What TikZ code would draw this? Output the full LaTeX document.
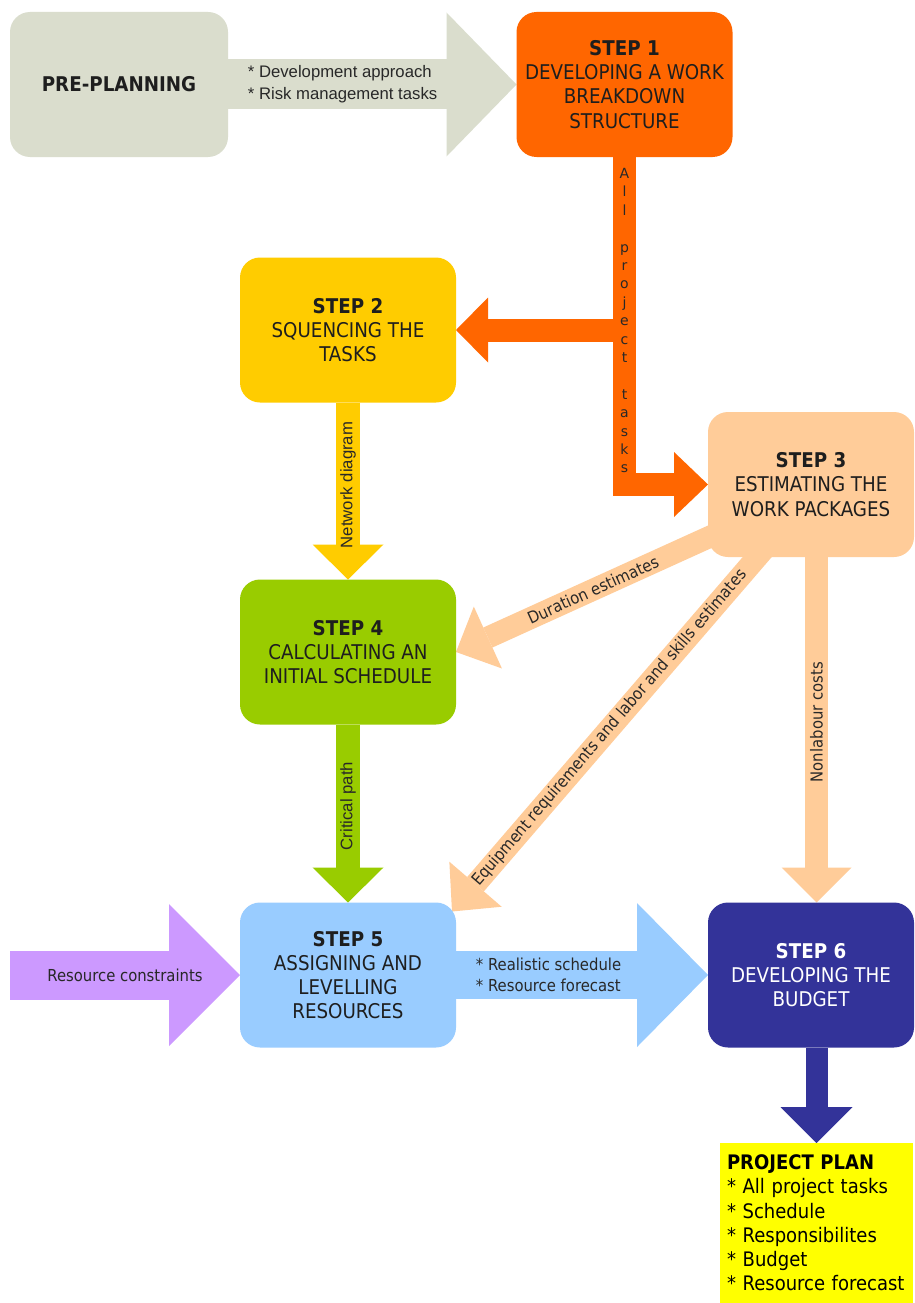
\documentclass[tikz,border=0pt]{standalone}
\usepackage{fontspec}
\setmainfont{DejaVu Sans Condensed}
\newfontfamily\arialfont{Liberation Sans}
\newfontfamily\widefont{DejaVu Sans}
\usetikzlibrary{arrows.meta}
\pgfdeclarelayer{background}
\pgfsetlayers{background,main}

% palette
\definecolor{preGray}{RGB}{218,221,205}
\definecolor{stepOrange}{RGB}{255,102,0}
\definecolor{stepYellow}{RGB}{255,204,0}
\definecolor{stepPeach}{RGB}{255,204,153}
\definecolor{stepGreen}{RGB}{153,204,0}
\definecolor{stepBlue}{RGB}{153,204,255}
\definecolor{stepNavy}{RGB}{51,51,153}
\definecolor{constraintViolet}{RGB}{204,153,255}
\definecolor{planYellow}{RGB}{255,255,0}
\definecolor{inkText}{RGB}{30,30,30}
\definecolor{labelText}{RGB}{40,40,40}

\tikzset{
  stepbox/.style={rounded corners=20pt, minimum width=216pt, minimum height=145pt,
    inner sep=0pt, outer sep=0pt, align=center, text=inkText,
    font=\fontsize{20.3}{24.2}\selectfont},
  headtip/.style 2 args={-{Triangle[length=#1, width=#2, line width=0pt]}},
  notesf/.style={text=labelText, inner sep=0pt, outer sep=0pt,
    font=\fontsize{16.5}{20.5}\selectfont},
  notearial/.style={text=labelText, inner sep=0pt, outer sep=0pt,
    font=\arialfont\fontsize{16.7}{22}\selectfont},
  letterstack/.style={text=labelText, inner sep=0pt, outer sep=0pt, align=center,
    font=\widefont\fontsize{14}{18.4}\selectfont},
  planbox/.style={fill=planYellow, minimum width=193pt, minimum height=160pt,
    text width=179pt, inner xsep=7pt, inner ysep=0pt, outer sep=0pt, align=left,
    text=black, font=\fontsize{20}{24.2}\selectfont}
}

\begin{document}
\begin{tikzpicture}[x=1pt,y=-1pt]
\useasboundingbox (0,0) rectangle (915,1303);

% ---- process boxes ----
\node[stepbox, fill=preGray, minimum width=218pt] (pre) at (119,84.5) {\textbf{PRE-PLANNING}};
\node[stepbox, fill=stepOrange] (s1) at (624.5,84.5)
  {\textbf{STEP 1}\\DEVELOPING A WORK\\BREAKDOWN\\STRUCTURE};
\node[stepbox, fill=stepYellow] (s2) at (348,330)
  {\textbf{STEP 2}\\SQUENCING THE\\TASKS};
\node[stepbox, fill=stepPeach, minimum width=206pt] (s3) at (811,484.5)
  {\textbf{STEP 3}\\ESTIMATING THE\\WORK PACKAGES};
\node[stepbox, fill=stepGreen] (s4) at (348,652)
  {\textbf{STEP 4}\\CALCULATING AN\\INITIAL SCHEDULE};
\node[stepbox, fill=stepBlue] (s5) at (348,975)
  {\textbf{STEP 5}\\ASSIGNING AND\\LEVELLING\\RESOURCES};
\node[stepbox, fill=stepNavy, minimum width=206pt, text=white] (s6) at (811,975)
  {\textbf{STEP 6}\\DEVELOPING THE\\BUDGET};
\node[planbox] (plan) at (816.5,1223)
  {\textbf{PROJECT PLAN}\\{*} All project tasks\\{*} Schedule\\{*} Responsibilites\\{*} Budget\\{*} Resource forecast};

\coordinate (rcstart) at (10,975);

% ---- block arrows, kept behind the boxes ----
\begin{pgfonlayer}{background}
\fill[white] (0,0) rectangle (915,1303);

\draw[preGray, line width=50pt, headtip={70pt}{144pt}] (pre.east) --
  node[notearial, anchor=west, align=left, pos=0.069] (prenote)
  {* Development approach\\{*} Risk management tasks} (s1.west);

\draw[stepOrange, line width=23pt, headtip={32pt}{65pt}] (s1.south |- s2.east) -- (s2.east);
\draw[stepOrange, line width=23pt, headtip={34pt}{65pt}] (s1.south) |-
  node[letterstack, pos=0.25] (alltasks)
  {A\\l\\l\\\mbox{}\\p\\r\\o\\j\\e\\c\\t\\\mbox{}\\t\\a\\s\\k\\s} (s3.west);

\draw[stepYellow, line width=24pt, headtip={35pt}{71pt}] (s2.south) --
  node[notearial, rotate=90, pos=0.466] (netnote) {Network diagram} (s4.north);

\draw[stepGreen, line width=24pt, headtip={35pt}{71pt}] (s4.south) --
  node[notearial, rotate=90, pos=0.458] (critnote) {Critical path} (s5.north);

\draw[stepPeach, line width=22pt, headtip={35pt}{68pt}] ([shift={(-72,39)}]s3.center) --
  node[notesf, rotate=24.4, pos=0.516] (durnote) {Duration estimates} (s4.east);

\draw[stepPeach, line width=22pt, headtip={36pt}{69pt}] ([shift={(-46,63.5)}]s3.center) --
  node[notesf, rotate=49.27, pos=0.495] (eqnote)
  {Equipment requirements and labor and skills estimates} ([shift={(-4,9)}]s5.north east);

\draw[stepPeach, line width=23pt, headtip={35pt}{70pt}] ([xshift=5.5pt]s3.south) --
  node[notesf, rotate=90, pos=0.478] (costnote) {Nonlabour costs} ([xshift=5.5pt]s6.north);

\draw[constraintViolet, line width=49pt, headtip={71pt}{142pt}] (rcstart) --
  node[notesf, midway] (rcnote) {Resource constraints} (s5.west);

\draw[stepBlue, line width=48pt, headtip={71pt}{144pt}] (s5.east) --
  node[notesf, anchor=west, align=left, pos=0.079] (schednote)
  {* Realistic schedule\\{*} Resource forecast} (s6.west);

\draw[stepNavy, line width=22pt, headtip={36pt}{72pt}] ([xshift=5.5pt]s6.south) -- (plan.north);
\end{pgfonlayer}
\end{tikzpicture}
\end{document}
